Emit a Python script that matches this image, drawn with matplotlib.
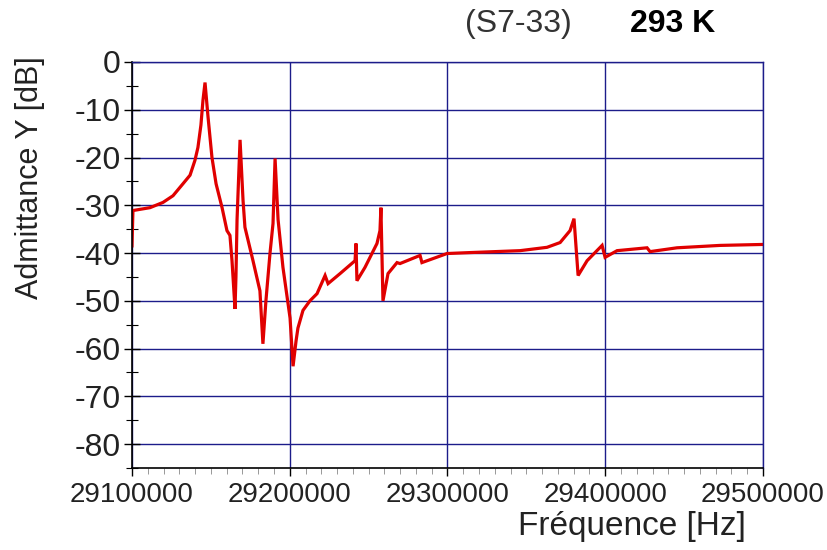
import matplotlib
matplotlib.use("Agg")
import matplotlib.pyplot as plt
from matplotlib.ticker import MultipleLocator, FuncFormatter

# fréquence [Hz] et admittance [dB]
freq = [29100000, 29100600, 29111400, 29119650, 29126000, 29132300, 29136800,
        29139900, 29141800, 29143700, 29145000, 29146300, 29148200, 29150700,
        29153300, 29157100, 29160200, 29162100, 29163400, 29165300, 29165900,
        29166600, 29168500, 29170400, 29171600, 29176700, 29181100, 29183000,
        29184900, 29187500, 29189400, 29190700, 29192600, 29195700, 29200200,
        29202100, 29204000, 29205200, 29208400, 29212800, 29217300, 29222400,
        29224300, 29231900, 29241400, 29242000, 29242600, 29247700, 29255300,
        29257200, 29257800, 29259100, 29262300, 29268000, 29269900, 29282600,
        29283800, 29299700, 29314300, 29346000, 29363100, 29371400, 29377700,
        29380200, 29382800, 29388500, 29398000, 29399900, 29407500, 29426500,
        29428400, 29445500, 29472800, 29500000]
admittance = [-38.5, -31.1, -30.5, -29.4, -28.0, -25.5, -23.7,
              -20.6, -17.9, -13.2, -8.0, -4.3, -11.5, -20.0,
              -25.5, -30.5, -35.3, -36.3, -41.6, -51.7, -45.0,
              -33.0, -16.3, -29.0, -34.6, -41.6, -47.9, -59.0,
              -50.0, -40.0, -33.8, -20.2, -33.0, -43.0, -53.6,
              -63.7, -58.4, -55.7, -52.0, -50.0, -48.5, -44.7,
              -46.4, -44.3, -41.6, -38.0, -45.8, -43.0, -38.0,
              -35.3, -30.5, -50.0, -44.3, -42.0, -42.2, -40.5,
              -42.0, -40.1, -39.9, -39.5, -38.8, -37.8, -35.3,
              -32.8, -44.7, -41.6, -38.4, -40.9, -39.5, -38.9,
              -39.7, -38.9, -38.4, -38.2]

GRID_COLOR = "#1c1c8a"
TEXT_COLOR = "#222222"

plt.rcParams['font.family'] = ['Liberation Sans', 'DejaVu Sans']
plt.rcParams['axes.unicode_minus'] = False

fig = plt.figure(figsize=(8.27, 5.5), dpi=100)
ax = fig.add_axes([0.1596, 0.1491, 0.763, 0.7382])

ax.plot(freq, admittance, color="#e00000", lw=2.3, solid_joinstyle="miter")

ax.set_xlim(29100000, 29500000)
ax.set_ylim(-85, 0)
ax.xaxis.set_major_locator(MultipleLocator(100000))
ax.xaxis.set_minor_locator(MultipleLocator(10000))
ax.yaxis.set_major_locator(MultipleLocator(10))
ax.yaxis.set_minor_locator(MultipleLocator(5))
ax.xaxis.set_major_formatter(FuncFormatter(lambda v, p: "%d" % v))

ax.grid(True, which="major", color=GRID_COLOR, lw=1.0)
ax.set_axisbelow(True)

ax.tick_params(axis="y", which="major", direction="inout", length=12, width=1,
               labelsize=23, labelcolor=TEXT_COLOR, pad=2)
ax.tick_params(axis="y", which="minor", direction="inout", length=8, width=0.8)
ax.tick_params(axis="x", which="major", direction="out", length=6, width=1,
               labelsize=20, labelcolor=TEXT_COLOR, pad=4)
ax.tick_params(axis="x", which="minor", direction="out", length=4, width=0.6,
               color="#888888")

for side in ("left", "bottom"):
    ax.spines[side].set_color("black")
    ax.spines[side].set_linewidth(1.2)
for side in ("top", "right"):
    ax.spines[side].set_color(GRID_COLOR)
    ax.spines[side].set_linewidth(1.0)

fig.text(0.036, 0.677, "Admittance Y [dB]", fontsize=22, color=TEXT_COLOR,
         rotation=90, ha="center", va="center")
fig.text(0.902, 0.042, "Fréquence [Hz]", fontsize=24, color=TEXT_COLOR,
         ha="right", va="center")

fig.text(0.627, 0.956, "(S7-33)", fontsize=23, color="#333333",
         ha="center", va="center")
fig.text(0.813, 0.956, "293 K", fontsize=23, fontweight="bold",
         color="black", ha="center", va="center")

fig.savefig("out.png", dpi=100)
